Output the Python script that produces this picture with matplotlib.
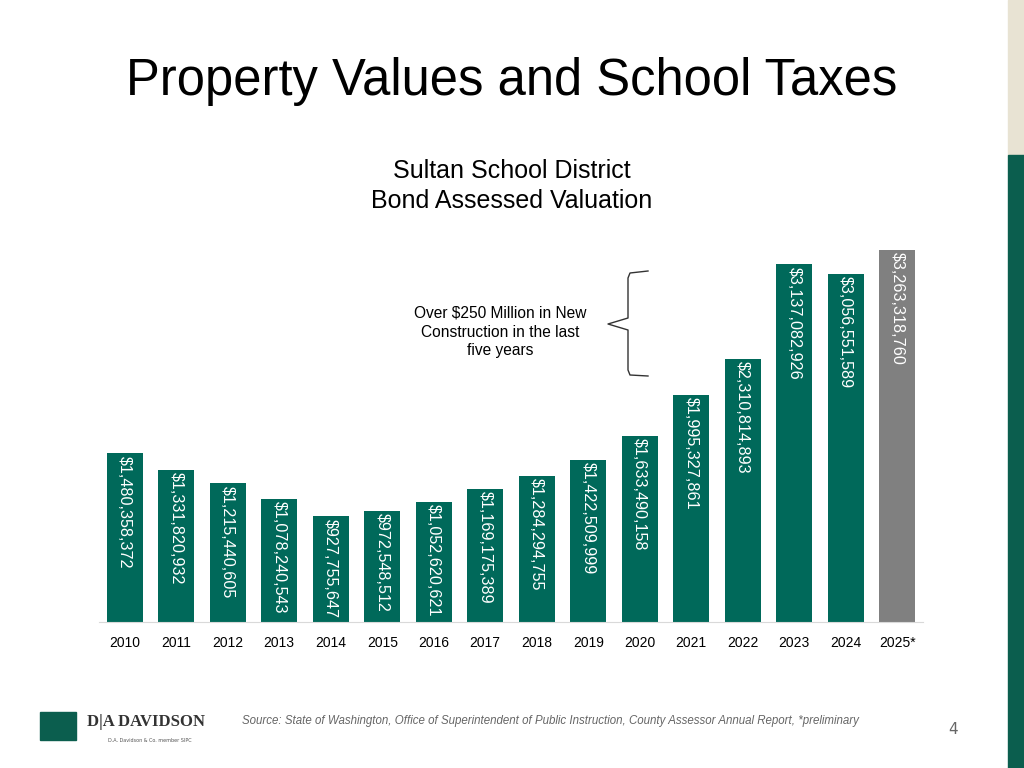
import matplotlib
matplotlib.use("Agg")
import matplotlib.pyplot as plt
from matplotlib.patches import Rectangle

years = ["2010","2011","2012","2013","2014","2015","2016","2017","2018","2019","2020","2021","2022","2023","2024","2025*"]
values = [1480358372,1331820932,1215440605,1078240543,927755647,972548512,1052620621,1169175389,
          1284294755,1422509999,1633490158,1995327861,2310814893,3137082926,3056551589,3263318760]
green = "#00695A"
gray = "#808080"
colors = [green]*15 + [gray]

W, H = 1024, 768
fig = plt.figure(figsize=(W/100, H/100), dpi=100)
def fx(x): return x/W
def fy(y): return 1 - y/H

# side strip
fig.patches.append(Rectangle((fx(1008), fy(155)), fx(16), 155/H, transform=fig.transFigure, color="#E8E3D3", zorder=0))
fig.patches.append(Rectangle((fx(1008), 0), fx(16), fy(155), transform=fig.transFigure, color="#0B5E4E", zorder=0))

fig.text(fx(512), fy(82), "Property Values and School Taxes", ha="center", va="center", fontsize=36.5, family="Liberation Sans")
fig.text(fx(512), fy(186), "Sultan School District\nBond Assessed Valuation", ha="center", va="center", fontsize=18, family="Liberation Sans", linespacing=1.3)

ax = fig.add_axes([fx(99), fy(622), fx(824), (622-230)/H])
vals_m = [v/1e6 for v in values]
x = list(range(len(years)))
ax.bar(x, vals_m, width=0.7, color=colors)
ax.set_xlim(-0.5, 15.5)
ax.set_ylim(0, 3263.3*392/372)
for i, v in enumerate(values):
    ax.text(i, vals_m[i] - 20, "${:,}".format(v), rotation=-90, ha="center", va="top",
            color="white", fontsize=11.6, family="Liberation Sans")
for s in ["top", "right", "left"]:
    ax.spines[s].set_visible(False)
ax.spines["bottom"].set_color("#D9D9D9")
ax.set_yticks([])
ax.set_xticks(x)
ax.set_xticklabels(years, fontsize=10, family="Liberation Sans")
ax.tick_params(axis="x", length=0, pad=10)

fig.text(fx(500), fy(332), "Over $250 Million in New\nConstruction in the last\nfive years", ha="center", va="center",
         fontsize=11.2, family="Liberation Sans", linespacing=1.3)
# brace
bx = [fx(648), fx(630), fx(628), fx(628), fx(608), fx(628), fx(628), fx(630), fx(648)]
by = [fy(271), fy(273), fy(278), fy(318), fy(324), fy(330), fy(370), fy(375), fy(376)]
fig.add_artist(plt.Line2D(bx, by, transform=fig.transFigure, color="#333333", lw=1))

fig.text(fx(242), fy(721), "Source: State of Washington, Office of Superintendent of Public Instruction, County Assessor Annual Report, *preliminary",
         fontsize=8.3, style="italic", color="#666666", family="Liberation Sans", va="center")
fig.text(fx(953), fy(730), "4", fontsize=11, color="#666666", ha="center", va="center")
fig.text(fx(87), fy(722), "D|A DAVIDSON", fontsize=12, family="Liberation Serif", weight="bold", color="#333333", va="center")
fig.text(fx(150), fy(740), "D.A. Davidson & Co. member SIPC", fontsize=3.5, color="#555555", ha="center", va="center")
fig.patches.append(Rectangle((fx(40), fy(740)), fx(36), 28/H, transform=fig.transFigure, color="#0B5E4E"))

fig.savefig("out.png", dpi=100)
